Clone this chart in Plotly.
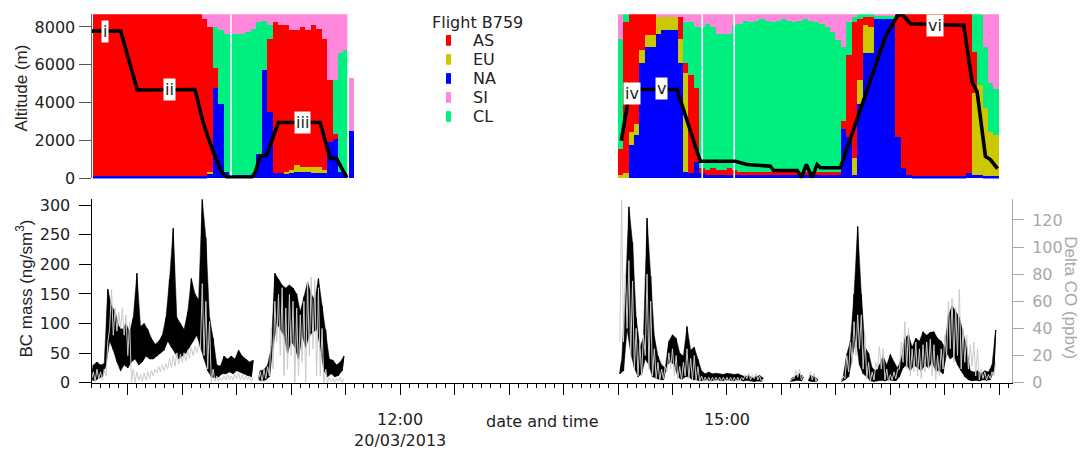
import plotly.graph_objects as go
import pandas as pd

DAY = "2013-03-20 "
FONT_H = "DejaVu Sans"
FONT_V = "Liberation Sans, Arial"
TXT = "#222222"
GREY = "#A8A8A8"

# ---------------- Top panel: air-mass origin fractions (%), 3-min bins ----------------
SPECIES = ["NA", "EU", "AS", "CL", "SI"]          # stacking order (bottom -> top)
COLORS = {"AS": "#FF0000", "EU": "#CCC800", "NA": "#0000FF", "SI": "#FF88DD", "CL": "#00F080"}
LEGEND_TITLE = "Flight B759"
LEGEND_ORDER = ["AS", "EU", "NA", "SI", "CL"]

left_first_bin = DAY + "09:12"
NA_L = [1]*20 + [1, 3, 55, 45, 4, 2, 2, 2, 2, 2, 15, 66, 40, 3, 3, 3, 3, 4, 4, 4, 3, 3, 3, 22, 24, 4, 3, 29]
EU_L = [0]*20 + [0, 1, 0, 0, 0, 0, 0, 0, 0, 0, 0, 0, 0, 0, 0, 1, 2, 4, 3, 3, 4, 4, 2, 0, 0, 0, 0, 0]
AS_L = [99]*20 + [96, 88, 12, 0, 0, 0, 0, 0, 0, 0, 0, 0, 45, 92, 90, 89, 85, 82, 85, 83, 86, 84, 80, 38, 3, 0, 0, 0]
CL_L = [0]*20 + [0, 0, 25, 45, 84, 86, 86, 86, 87, 89, 80, 30, 8, 0, 0, 0, 0, 0, 0, 0, 0, 0, 0, 0, 33, 72, 75, 0]
SI_L = [0]*20 + [3, 8, 8, 10, 12, 12, 12, 12, 11, 9, 5, 4, 7, 5, 7, 7, 10, 10, 8, 10, 7, 9, 15, 40, 40, 24, 22, 32]

right_first_bin = DAY + "14:01"
NA_R = [0, 0, 20, 26, 70, 80, 80, 88, 90, 90, 90, 70, 4, 3, 10, 3, 2, 2, 2, 2,
        2, 2, 2, 2, 2, 2, 2, 2, 2, 2, 2, 2, 2, 2, 2, 2, 2, 2, 2, 2,
        2, 30, 25, 2, 45, 76, 76, 97, 97, 97, 97, 25, 6, 2, 1, 1, 1, 1, 1, 1,
        1, 1, 1, 1, 3, 2, 2, 1, 1, 1]
EU_R = [2, 3, 8, 7, 8, 7, 7, 10, 8, 8, 8, 15, 60, 0, 0, 0, 0, 0, 0, 0,
        0, 0, 0, 0, 0, 0, 0, 0, 0, 0, 0, 0, 0, 0, 0, 0, 0, 0, 0, 0,
        0, 0, 0, 10, 15, 17, 16, 0, 0, 0, 0, 0, 0, 0, 0, 0, 0, 0, 0, 0,
        0, 0, 0, 0, 0, 50, 55, 42, 27, 25]
AS_R = [16, 92, 72, 67, 22, 13, 13, 0, 0, 0, 0, 13, 6, 60, 45, 3, 3, 4, 3, 3,
        4, 3, 2, 2, 2, 2, 2, 2, 2, 2, 2, 2, 2, 2, 2, 2, 2, 2, 2, 2,
        2, 5, 50, 83, 37, 5, 6, 0, 0, 0, 0, 75, 94, 98, 99, 99, 99, 99, 99, 99,
        99, 99, 99, 99, 97, 25, 0, 0, 0, 0]
CL_R = [67, 5, 0, 0, 0, 0, 0, 0, 0, 0, 0, 0, 25, 32, 37, 86, 89, 86, 83, 83,
        82, 88, 90, 92, 91, 92, 93, 92, 91, 92, 93, 92, 91, 92, 93, 92, 91, 90, 88, 85,
        80, 45, 20, 3, 3, 2, 2, 2, 2, 2, 2, 0, 0, 0, 0, 0, 0, 0, 0, 0,
        0, 0, 0, 0, 0, 23, 43, 37, 30, 28]
SI_R = [15, 0, 0, 0, 0, 0, 0, 2, 2, 2, 2, 2, 5, 5, 8, 8, 6, 8, 12, 12,
        12, 7, 6, 4, 5, 4, 3, 4, 5, 4, 3, 4, 5, 4, 3, 4, 5, 6, 8, 11,
        16, 20, 5, 2, 0, 0, 0, 1, 1, 1, 1, 0, 0, 0, 0, 0, 0, 0, 0, 0,
        0, 0, 0, 0, 0, 0, 0, 20, 42, 46]

frac_left = {"NA": NA_L, "EU": EU_L, "AS": AS_L, "CL": CL_L, "SI": SI_L}
frac_right = {"NA": NA_R, "EU": EU_R, "AS": AS_R, "CL": CL_R, "SI": SI_R}

# missing-data instants in the back-trajectory record (white gaps)
gap_times = [DAY + "10:26:52", DAY + "11:31:20", DAY + "14:46:24", DAY + "15:04:00"]

# ---------------- Flight altitude (m) ----------------
alt_time = ["09:10:00", "09:26:05", "09:35:14", "10:07:02", "10:11:26", "10:16:57", "10:21:55",
            "10:24:30", "10:38:17", "10:40:06", "10:42:51", "10:46:33", "10:52:56", "11:15:54",
            "11:21:24", "11:25:06", "11:30:36", None,
            "14:01:47", "14:05:55", "14:08:57", "14:32:29", "14:45:19", "15:04:36", "15:11:03",
            "15:23:54", "15:25:42", "15:38:46", "15:40:59", "15:43:44", "15:46:52", "15:49:37",
            "15:51:27", "16:02:29", "16:27:17", "16:33:54", "16:36:40", "16:41:05", "17:10:25",
            "17:15:02", "17:17:47", "17:22:22", "17:25:07", "17:29:00"]
alt_m = [7780, 7780, 4670, 4700, 2970, 1430, 300,
         60, 60, 300, 1180, 1250, 2960, 2960,
         1080, 1030, 50, None,
         2000, 4300, 4700, 4700, 910, 910, 735,
         650, 420, 420, 50, 740, 50, 735,
         565, 565, 7490, 8600, 8650, 8170, 8090,
         5090, 4580, 1160, 1000, 520]

run_labels = ["i", "ii", "iii", "iv", "v", "vi"]
run_label_time = ["09:17:26", "09:52:42", "11:06:16", "14:07:51", "14:23:50", "16:54:50"]
run_label_alt = [7780, 4690, 2960, 4490, 4770, 8100]

# ---------------- Bottom panel: 2-min bins, (low, high) envelope ----------------
bc_left_start = DAY + "09:10"
BC_L_LO = [5, 3, 8, 10, 30, 70, 55, 35, 20, 30, 25, 35, 40, 30, 35, 45, 40, 40, 45, 50,
           55, 70, 60, 50, 40, 45, 50, 60, 70, 80, 60, 40, 20, 10, 8, 10, 15, 15, 18, 15,
           20, 18, 15, 12, 10, None, 5, 3, 5, 10, 60, 100, 90, 80, 50, 70, 60, 40, 80, 60,
           80, 85, 90, 60, 20, 10, 15, 10, 12, 20]
BC_L_HI = [30, 35, 30, 32, 158, 130, 120, 95, 90, 100, 85, 110, 185, 95, 100, 90, 75, 65, 70, 80,
           110, 175, 261, 110, 100, 90, 120, 176, 150, 140, 310, 245, 110, 75, 30, 28, 45, 40, 45, 40,
           55, 45, 40, 35, 38, None, 20, 22, 30, 60, 185, 175, 165, 160, 165, 160, 150, 120, 145, 170,
           150, 140, 176, 130, 90, 40, 38, 30, 35, 45]
CO_L_LO = [2, 1, 3, 2, 5, 40, 35, 38, 40, 35, 20, 0, 0, 2, 1, 2, 3, 5, 7, 8,
           9, 10, 11, 12, 14, 15, 16, 18, 20, 22, 25, 20, 10, 0, 1, 1, 2, 2, 2, 2,
           3, 2, 2, 2, 1, None, 2, 1, 3, 5, 10, 30, 20, 5, 10, 20, 0, 5, 15, 0,
           20, 25, 5, 5, 0, 0, 1, 0, 1, 0]
CO_L_HI = [8, 10, 8, 10, 30, 69, 55, 52, 55, 50, 45, 10, 8, 6, 7, 8, 9, 10, 12, 13,
           14, 18, 20, 22, 21, 22, 24, 26, 27, 28, 73, 60, 45, 10, 5, 4, 5, 6, 5, 6,
           7, 6, 5, 5, 4, None, 8, 10, 12, 40, 60, 65, 70, 55, 65, 60, 55, 50, 60, 75,
           78, 76, 70, 40, 10, 4, 3, 3, 4, 3]

bc_right_start = DAY + "14:01"
N = None
BC_R_LO = [15, 20, 90, 50, 25, 10, 15, 40, 30, 10, 8, 5, 5, 30, 35, 30, 10, 5, 10, 10,
           5, 5, 3, 4, 5, 3, 4, 5, 3, 4, 5, 3, 4, 5, 3, 4, 3, 2, 3, 2,
           N, N, N, N, N, N, N, 2, 3, 4, 3, N, 3, 2, 2, N, N, N, N, N,
           N, 2, 5, 10, 40, 75, 30, 15, 10, 3, 2, 3, 4, 3, 5, 4, 3, 10, 25, 30,
           20, 30, 25, 20, 30, 25, 35, 20, 20, 15, 50, 40, 45, 30, 20, 10, 5, 3, 4, 3,
           5, 4, 5, 20]
BC_R_HI = [37, 150, 297, 237, 110, 60, 75, 278, 180, 78, 45, 30, 25, 70, 81, 75, 50, 45, 95, 55,
           60, 40, 20, 15, 18, 15, 16, 15, 14, 16, 15, 14, 15, 12, 10, 12, 8, 10, 12, 8,
           N, N, N, N, N, N, N, 8, 12, 15, 10, N, 12, 10, 6, N, N, N, N, N,
           N, 10, 48, 70, 150, 264, 150, 60, 50, 25, 20, 30, 45, 30, 48, 35, 25, 40, 75, 81,
           60, 75, 70, 86, 80, 85, 86, 75, 70, 60, 114, 130, 120, 110, 85, 60, 20, 18, 20, 15,
           20, 18, 30, 89]
CO_R_LO = [30, 30, 40, 20, 10, 5, 5, 20, 10, 5, 3, 2, 3, 8, 10, 5, 3, 2, 5, 3,
           2, 2, 1, 1, 1, 1, 1, 1, 1, 1, 1, 1, 1, 1, 2, 3, 2, 3, 2, 1,
           N, N, N, N, N, N, N, 1, 3, 4, 2, N, 3, 2, 1, N, N, N, N, N,
           N, 1, 3, 8, 15, 20, 25, 10, 3, 1, 2, 10, 10, 2, 1, 2, 3, 10, 15, 10,
           5, 8, 5, 3, 8, 10, 5, 2, 5, 10, 20, 25, 15, 20, 10, 15, 10, 12, 5, 2,
           3, 2, 3, 5]
CO_R_HI = [135, 80, 90, 75, 40, 30, 35, 80, 60, 25, 15, 10, 12, 22, 25, 20, 12, 15, 25, 18,
           20, 12, 5, 4, 4, 4, 4, 4, 4, 4, 4, 4, 4, 4, 6, 7, 6, 7, 5, 3,
           N, N, N, N, N, N, N, 3, 9, 10, 6, N, 8, 7, 4, N, N, N, N, N,
           N, 5, 20, 30, 45, 50, 50, 35, 15, 8, 15, 27, 25, 10, 6, 8, 10, 30, 45, 40,
           25, 30, 25, 28, 30, 32, 28, 20, 25, 35, 60, 62, 55, 69, 40, 35, 28, 30, 25, 10,
           8, 6, 8, 15]

# x-axis ticks
major_ticks = pd.date_range(DAY + "09:30", DAY + "17:30", freq="30min")
tick_labels = {"12:00": "12:00<br>20/03/2013", "15:00": "15:00"}
X_RANGE = [DAY + "09:10:00", DAY + "17:37:00"]


# ---------------- helpers ----------------
def envelope(start, lo, hi):
    """Dense trace alternating between the low and high value inside each 2-min bin."""
    xs, ys = [], []
    t0 = pd.Timestamp(start)
    for i, (a, b) in enumerate(zip(lo, hi)):
        t = t0 + pd.Timedelta(minutes=2 * i)
        if a is None:
            xs.append(t)
            ys.append(None)
            continue
        xs += [t, t + pd.Timedelta(minutes=1)]
        ys += [a, b]
    return xs, ys


def band(start, lo, hi):
    """Closed polygons spanning low..high for each run of valid bins."""
    t0 = pd.Timestamp(start)
    xs, ys = [], []
    seg = []
    for i, (a, b) in enumerate(list(zip(lo, hi)) + [(None, None)]):
        if a is None:
            if seg:
                top_x = [t + pd.Timedelta(minutes=1) for t, _, _ in seg]
                top_y = [h for _, _, h in seg]
                bot_x = [t for t, _, _ in reversed(seg)]
                bot_y = [l for _, l, _ in reversed(seg)]
                xs += top_x + bot_x + [None]
                ys += top_y + bot_y + [None]
            seg = []
            continue
        seg.append((t0 + pd.Timedelta(minutes=2 * i), a, b))
    return xs, ys


fig = go.Figure()

# stacked bars
t_left = list(pd.date_range(left_first_bin, periods=len(NA_L), freq="3min"))
t_right = list(pd.date_range(right_first_bin, periods=len(NA_R), freq="3min"))
for sp in SPECIES:
    fig.add_trace(go.Bar(
        x=t_left + t_right, y=frac_left[sp] + frac_right[sp], name=sp,
        marker=dict(color=COLORS[sp], line=dict(width=0)),
        xaxis="x2", yaxis="y3", showlegend=False, hoverinfo="skip"))

# white missing-data gaps
gx, gy = [], []
for g in gap_times:
    gx += [g, g, None]
    gy += [0, 100, None]
fig.add_trace(go.Scatter(x=gx, y=gy, mode="lines", line=dict(color="white", width=1.6),
                         xaxis="x2", yaxis="y3", showlegend=False, hoverinfo="skip"))

# altitude line
fig.add_trace(go.Scatter(
    x=[DAY + t if t else None for t in alt_time], y=alt_m, mode="lines",
    line=dict(color="black", width=3.6), xaxis="x2", yaxis="y4",
    showlegend=False, hoverinfo="skip"))

# BC mass (black): dense band + envelope trace
for start, lo, hi in [(bc_left_start, BC_L_LO, BC_L_HI), (bc_right_start, BC_R_LO, BC_R_HI)]:
    bx, by = band(start, lo, hi)
    fig.add_trace(go.Scatter(x=bx, y=by, mode="lines", fill="toself", fillcolor="black",
                             line=dict(color="black", width=0.5),
                             xaxis="x", yaxis="y", showlegend=False, hoverinfo="skip"))
    xs, ys = envelope(start, lo, hi)
    fig.add_trace(go.Scatter(x=xs, y=ys, mode="lines", line=dict(color="black", width=1.2),
                             xaxis="x", yaxis="y", showlegend=False, hoverinfo="skip"))
# Delta CO (grey)
for start, lo, hi in [(bc_left_start, CO_L_LO, CO_L_HI), (bc_right_start, CO_R_LO, CO_R_HI)]:
    xs, ys = envelope(start, lo, hi)
    fig.add_trace(go.Scatter(x=xs, y=ys, mode="lines", line=dict(color="#CACACA", width=1.0),
                             xaxis="x", yaxis="y2", showlegend=False, hoverinfo="skip"))

W, H = 1083, 450
XDOM = [91.5 / W, 1012 / W]
tickfont = dict(family=FONT_H, size=16, color=TXT)


def px(xp, yp):
    return dict(x=xp / W, y=1 - yp / H, xref="paper", yref="paper")


annotations = []
for lab, t, a in zip(run_labels, run_label_time, run_label_alt):
    annotations.append(dict(x=DAY + t, y=a, xref="x2", yref="y4", text=lab, showarrow=False,
                            bgcolor="white", borderpad=1, xanchor="center", yanchor="middle",
                            font=dict(family=FONT_H, size=16, color=TXT)))
annotations += [
    dict(**px(21.5, 87.5), text="Altitude (m)", textangle=-90, showarrow=False,
         xanchor="center", yanchor="middle", font=dict(family=FONT_V, size=17, color=TXT)),
    dict(**px(24, 294), text="BC mass (ng/sm<sup>3</sup>)", textangle=-90, showarrow=False,
         xanchor="center", yanchor="middle", font=dict(family=FONT_V, size=17, color=TXT)),
    dict(**px(1071, 303), text="Delta CO (ppbv)", textangle=90, showarrow=False,
         xanchor="center", yanchor="middle", font=dict(family=FONT_V, size=17, color=GREY)),
    dict(**px(542, 431), text="date and time", showarrow=False,
         xanchor="center", yanchor="middle", font=dict(family=FONT_H, size=16, color=TXT)),
    dict(**px(430, 20), text=LEGEND_TITLE, showarrow=False,
         xanchor="left", yanchor="middle", font=dict(family=FONT_H, size=16, color=TXT)),
]

# legend (drawn as layout decoration)
shapes = []
for i, sp in enumerate(LEGEND_ORDER):
    yc = 38.5 + 19.6 * i
    annotations.append(dict(**px(471, yc), text=sp, showarrow=False, xanchor="left",
                            yanchor="middle", font=dict(family=FONT_H, size=16, color=TXT)))
    shapes.append(dict(type="rect", xref="paper", yref="paper",
                       x0=446 / W, x1=451 / W, y0=1 - (yc - 5.5) / H, y1=1 - (yc + 5.5) / H,
                       fillcolor=COLORS[sp], line=dict(width=0)))

fig.update_layout(
    width=W, height=H, margin=dict(l=0, r=0, t=0, b=0),
    paper_bgcolor="white", plot_bgcolor="white",
    barmode="stack", bargap=0, showlegend=False,
    font=dict(family=FONT_H, size=16, color=TXT),
    xaxis=dict(domain=XDOM, range=X_RANGE, type="date", anchor="y",
               showgrid=False, zeroline=False, showline=True, linecolor="black", linewidth=1,
               ticks="outside", ticklen=11, tickcolor="black",
               tickmode="array", tickvals=list(major_ticks),
               ticktext=[tick_labels.get(t.strftime("%H:%M"), "") for t in major_ticks],
               tickfont=tickfont, ticklabelstandoff=11,
               minor=dict(tickmode="linear", tick0=DAY + "09:10", dtick=300000,
                          ticks="outside", ticklen=4, tickcolor="black", showgrid=False)),
    yaxis=dict(domain=[(H - 391) / H, (H - 202) / H], range=[0, 310], anchor="x",
               showgrid=False, zeroline=False, showline=True, linecolor="black",
               ticks="outside", ticklen=12, tickcolor="black",
               tickvals=[0, 50, 100, 150, 200, 250, 300], tickfont=tickfont,
               ticklabelstandoff=5),
    yaxis2=dict(overlaying="y", side="right", anchor="x", range=[0, 135.3],
                showgrid=False, zeroline=False, showline=True, linecolor=GREY,
                ticks="outside", ticklen=11, tickcolor=GREY,
                tickvals=[0, 20, 40, 60, 80, 100, 120],
                tickfont=dict(family=FONT_H, size=16, color=GREY), ticklabelstandoff=5),
    xaxis2=dict(domain=XDOM, range=X_RANGE, type="date", anchor="y3", visible=False),
    yaxis3=dict(domain=[(H - 180.7) / H, (H - 11.7) / H], range=[0, 100], anchor="x2",
                visible=False),
    yaxis4=dict(overlaying="y3", anchor="x2", side="left", range=[0, 8667],
                showgrid=False, zeroline=False, showline=True, linecolor="#666666",
                ticks="outside", ticklen=12, tickcolor="#555555",
                tickvals=[0, 2000, 4000, 6000, 8000], tickfont=tickfont),
    annotations=annotations,
    shapes=shapes,
)

fig.write_html("out.html")
